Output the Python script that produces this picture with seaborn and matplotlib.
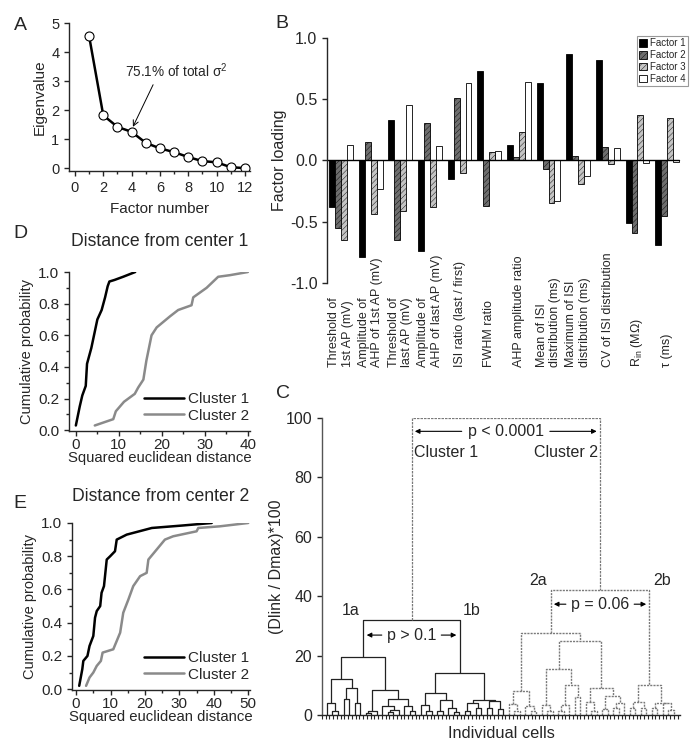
import numpy as np
import pandas as pd
import matplotlib
matplotlib.use('Agg')
import matplotlib.pyplot as plt
from matplotlib.ticker import MultipleLocator, FormatStrFormatter
import seaborn as sns

# ---------------- data ----------------

# A - scree plot
factor_num = list(range(1, 13))
eigenvalues = [4.55, 1.82, 1.42, 1.25, 0.87, 0.68, 0.55, 0.38, 0.24, 0.20, 0.03, 0.00]

# B - factor loadings
parameters = ['Threshold of\n1st AP (mV)', 'Amplitude of\nAHP of 1st AP (mV)',
              'Threshold of\nlast AP (mV)', 'Amplitude of\nAHP of last AP (mV)',
              'ISI ratio (last / first)', 'FWHM ratio', 'AHP amplitude ratio',
              'Mean of ISI\ndistribution (ms)', 'Maximum of ISI\ndistribution (ms)',
              'CV of ISI distribution', r'R$_{\rm in}$ (MΩ)', 'τ (ms)']
factors = ['Factor 1', 'Factor 2', 'Factor 3', 'Factor 4']
factor1 = [-0.38, -0.79, 0.33, -0.74, -0.15, 0.73, 0.13, 0.63, 0.87, 0.82, -0.51, -0.69]
factor2 = [-0.55, 0.15, -0.65, 0.31, 0.51, -0.37, 0.03, -0.07, 0.04, 0.11, -0.59, -0.45]
factor3 = [-0.65, -0.44, -0.41, -0.38, -0.10, 0.07, 0.23, -0.35, -0.19, -0.03, 0.37, 0.35]
factor4 = [0.13, -0.23, 0.45, 0.12, 0.63, 0.08, 0.64, -0.33, -0.13, 0.10, -0.02, -0.01]

# C - dendrogram, nodes are (height, left, right), L is a single cell
L = None
tree_1a = (19.5, (12, (4, L, (1.3, L, L)), (9, (5.5, L, L), (4, L, L))),
           (8.4, (1.2, (0.7, L, L), L),
            (5.3, (2.9, L, (1.8, (1.0, L, L), L)), (3, L, (1.2, L, L)))))
tree_1b = (14, (7.5, (3.5, L, (1.5, L, L)), (5, (1.5, L, L), (2.5, L, (1, L, L)))),
           (5.2, (4.2, (1.5, L, L), (2.5, L, L)), (4.8, (2.5, L, L), (2, L, L))))
tree_2a = (27.5, (8, (3.6, L, (1.5, L, L)), (3, L, (1.2, L, L))),
           (25, (15.5, (3.5, L, (1.5, L, L)), (10, (3.5, (1.5, L, L), L), (6, L, L))),
            (9, (4.5, L, (1.5, L, L)), (6.3, (2, L, L), (4, (2.5, L, L), L)))))
tree_2b = (10, (4.5, (2.5, L, L), (2.5, L, L)), (4.2, (2.5, L, L), (4, L, (1.8, L, L))))
h_cluster1 = 32
h_cluster2 = 42
h_top = 100

# D - distance from center 1
d_c1_dist = [0.0, 0.9, 1.5, 2.3, 2.6, 3.6, 4.3, 5.0, 6.0, 6.8, 7.4, 7.8, 9.0, 11.0, 13.8]
d_c1_prob = [0.03, 0.15, 0.22, 0.28, 0.42, 0.52, 0.61, 0.70, 0.76, 0.84, 0.91, 0.94, 0.95, 0.97, 1.00]
d_c2_dist = [4.4, 8.7, 9.3, 11.2, 13.7, 14.5, 15.7, 16.4, 17.6, 18.8, 21.9, 23.8, 26.9, 27.3,
             30.4, 33.1, 35.8, 40.0]
d_c2_prob = [0.03, 0.07, 0.12, 0.18, 0.23, 0.27, 0.32, 0.44, 0.60, 0.65, 0.72, 0.76, 0.79, 0.84,
             0.90, 0.97, 0.98, 1.00]

# E - distance from center 2
e_c1_dist = [0.9, 1.8, 2.1, 3.3, 3.9, 5.0, 5.5, 6.0, 7.0, 7.4, 8.1, 8.9, 9.9, 11.3, 11.8,
             14.7, 22.0, 31.0, 39.4]
e_c1_prob = [0.02, 0.12, 0.17, 0.20, 0.26, 0.32, 0.43, 0.47, 0.50, 0.58, 0.62, 0.78, 0.80, 0.83,
             0.90, 0.93, 0.97, 0.985, 1.00]
e_c2_dist = [2.9, 3.9, 5.0, 6.0, 7.2, 7.7, 10.8, 11.8, 12.8, 13.7, 15.2, 16.6, 18.6, 20.5, 21.0,
             23.4, 25.8, 28.2, 35.0, 35.5, 41.8, 50.0]
e_c2_prob = [0.02, 0.07, 0.10, 0.14, 0.17, 0.22, 0.24, 0.29, 0.34, 0.46, 0.54, 0.62, 0.68, 0.70,
             0.78, 0.84, 0.90, 0.92, 0.95, 0.97, 0.98, 1.00]

# ---------------- style ----------------
sns.set_theme(style='ticks')
plt.rcParams['font.family'] = ['Liberation Sans', 'DejaVu Sans']
plt.rcParams['mathtext.fontset'] = 'custom'
plt.rcParams['mathtext.rm'] = 'Liberation Sans'
plt.rcParams['mathtext.it'] = 'Liberation Sans:italic'
plt.rcParams['hatch.linewidth'] = 0.3
plt.rcParams['axes.linewidth'] = 1.0
plt.rcParams['xtick.major.width'] = 1.0
plt.rcParams['ytick.major.width'] = 1.0
plt.rcParams['xtick.major.size'] = 3.5
plt.rcParams['ytick.major.size'] = 3.5
plt.rcParams['xtick.minor.size'] = 2
plt.rcParams['ytick.minor.size'] = 2

fig = plt.figure(figsize=(6.96, 7.55), dpi=100)
axA = fig.add_axes([0.0991, 0.7735, 0.260, 0.196])
axB = fig.add_axes([0.470, 0.6252, 0.514, 0.3245])
axC = fig.add_axes([0.4626, 0.0530, 0.5144, 0.3934])
axD = fig.add_axes([0.0991, 0.4291, 0.2601, 0.2106])
axE = fig.add_axes([0.1034, 0.0861, 0.2557, 0.2212])

# ---------------- A ----------------
sns.lineplot(x=factor_num, y=eigenvalues, ax=axA, color='black', lw=1.8, marker='o',
             markersize=6.5, markerfacecolor='white', markeredgecolor='black',
             markeredgewidth=0.8)
axA.set_xlim(-0.42, 12.35)
axA.set_ylim(-0.1, 5.0)
axA.xaxis.set_major_locator(MultipleLocator(2))
axA.xaxis.set_minor_locator(MultipleLocator(1))
axA.yaxis.set_major_locator(MultipleLocator(1))
axA.tick_params(labelsize=10.5)
axA.set_xlabel('Factor number', fontsize=11, labelpad=5)
axA.set_ylabel('Eigenvalue', fontsize=11, labelpad=3)
axA.annotate('75.1% of total σ$^{2}$', xy=(4.05, 1.38), xytext=(3.5, 3.35),
             ha='left', va='center', fontsize=9.8,
             arrowprops=dict(arrowstyle='->', lw=0.7, color='black', relpos=(0.3, 0),
                             shrinkA=1, shrinkB=1))
sns.despine(ax=axA)

# ---------------- B ----------------
loadings = pd.DataFrame({
    'parameter': parameters * 4,
    'factor': [f for f in factors for _ in parameters],
    'loading': factor1 + factor2 + factor3 + factor4,
})
sns.barplot(data=loadings, x='parameter', y='loading', hue='factor', ax=axB,
            palette=['black', '#6e6e6e', '#c4c4c4', 'white'], saturation=1,
            edgecolor='black', linewidth=0.6, width=0.8)
hatches = ['', '//////', '//////', '']
for cont, hatch in zip(axB.containers, hatches):
    for bar in cont:
        bar.set_hatch(hatch)
old = axB.get_legend()
handles = old.legend_handles
labels = [t.get_text() for t in old.texts]
for h, hatch in zip(handles, hatches):
    h.set_hatch(hatch)
    h.set_edgecolor('black')
    h.set_linewidth(0.6)
old.remove()
leg = axB.legend(handles=handles, labels=labels, loc='upper right',
                 bbox_to_anchor=(0.9885, 0.9523), bbox_transform=fig.transFigure,
                 borderaxespad=0, fontsize=7, handlelength=0.8, handleheight=0.8,
                 handletextpad=0.3, labelspacing=0.18, borderpad=0.25,
                 fancybox=False, framealpha=1, edgecolor='#999999')
leg.get_frame().set_linewidth(0.8)
axB.axhline(0, color='black', lw=1.0, xmin=0, xmax=0.985)
axB.set_xlim(-0.47, 11.6)
axB.set_ylim(-1.0, 1.0)
axB.yaxis.set_major_locator(MultipleLocator(0.5))
axB.yaxis.set_major_formatter(FormatStrFormatter('%.1f'))
axB.tick_params(axis='y', labelsize=11.5)
axB.set_xticks([])
# parameter names start at a common baseline below the axis and run upwards
xform = matplotlib.transforms.blended_transform_factory(axB.transData, axB.transAxes)
for i, name in enumerate(parameters):
    axB.text(i, -0.343, name, transform=xform, rotation=90, ha='center', va='bottom',
             multialignment='left', fontsize=9, linespacing=1.15, clip_on=False)
axB.set_xlabel('')
axB.set_ylabel('Factor loading', fontsize=11.5, labelpad=2)
for s in ['top', 'right', 'bottom']:
    axB.spines[s].set_visible(False)


# ---------------- C ----------------
def draw_tree(ax, node, counter, style):
    # walk the tree, draw each link and return the x and height of the node
    if node is None:
        x = counter[0]
        counter[0] += 1
        return x, 0.0
    h, left, right = node
    xl, hl = draw_tree(ax, left, counter, style)
    xr, hr = draw_tree(ax, right, counter, style)
    ax.plot([xl, xl, xr, xr], [hl, h, h, hr], **style)
    return (xl + xr) / 2, h


def link(ax, xl, hl, xr, hr, h, style):
    ax.plot([xl, xl, xr, xr], [hl, h, h, hr], **style)
    return (xl + xr) / 2, h


style1 = dict(color='#222222', lw=0.9, solid_capstyle='butt')
style2 = dict(color='#7a7a7a', lw=1.0, linestyle=(0, (1.5, 0.8)))
style_top = dict(color='#7a7a7a', lw=0.9, linestyle=(0, (2, 0.8)))

counter = [0]
x1a, h1a = draw_tree(axC, tree_1a, counter, style1)
x1b, h1b = draw_tree(axC, tree_1b, counter, style1)
x1, h1 = link(axC, x1a, h1a, x1b, h1b, h_cluster1, style1)
x2a, h2a = draw_tree(axC, tree_2a, counter, style2)
x2b, h2b = draw_tree(axC, tree_2b, counter, style2)
x2, h2 = link(axC, x2a, h2a, x2b, h2b, h_cluster2, style2)
link(axC, x1, h1, x2, h2, h_top, style_top)
n_cells = counter[0]

axC.set_xlim(-0.91, n_cells + 0.1)
axC.set_ylim(0, 100)
axC.set_xticks(np.arange(-0.91, n_cells + 0.1, 0.68))
axC.tick_params(axis='x', labelbottom=False, length=3, width=0.8)
axC.yaxis.set_major_locator(MultipleLocator(20))
axC.tick_params(axis='y', labelsize=11.5)
axC.spines['left'].set_color('#555555')
axC.set_xlabel('Individual cells', fontsize=11.8, labelpad=5)
axC.set_ylabel('(Dlink / Dmax)*100', fontsize=11.5, labelpad=1)
sns.despine(ax=axC)

arrow_kw = dict(arrowstyle='-|>', color='black', lw=0.8, mutation_scale=7,
                shrinkA=0, shrinkB=0)
fs_c = 11.5


def p_label(ax, text, xl, xr, y, half):
    mid = (xl + xr) / 2
    ax.text(mid, y, text, ha='center', va='center', fontsize=fs_c)
    ax.annotate('', xy=(xl + 0.6, y), xytext=(mid - half, y), arrowprops=arrow_kw)
    ax.annotate('', xy=(xr - 0.6, y), xytext=(mid + half, y), arrowprops=arrow_kw)


p_label(axC, 'p < 0.0001', x1, x2, 95.5, 8.0)
p_label(axC, 'p > 0.1', x1a, x1b, 26.9, 5.4)
p_label(axC, 'p = 0.06', x2a, x2b, 37.3, 6.2)
axC.text(x1 + 0.4, 88.3, 'Cluster 1', ha='left', va='center', fontsize=fs_c)
axC.text(x2 - 0.4, 88.3, 'Cluster 2', ha='right', va='center', fontsize=fs_c)
axC.text(x1a - 0.7, 32.6, '1a', ha='right', va='bottom', fontsize=fs_c)
axC.text(x1b + 0.6, 32.6, '1b', ha='left', va='bottom', fontsize=fs_c)
axC.text(x2a - 0.6, 42.6, '2a', ha='right', va='bottom', fontsize=fs_c)
axC.text(x2b + 0.6, 42.6, '2b', ha='left', va='bottom', fontsize=fs_c)

# ---------------- D and E ----------------
for ax, c1x, c1y, c2x, c2y, xmax, xlo, title, pad in [
        (axD, d_c1_dist, d_c1_prob, d_c2_dist, d_c2_prob, 40.5, -1.6, 'Distance from center 1', 19),
        (axE, e_c1_dist, e_c1_prob, e_c2_dist, e_c2_prob, 50.5, -1.2, 'Distance from center 2', 16)]:
    sns.lineplot(x=c1x, y=c1y, ax=ax, color='black', lw=1.8, sort=False, estimator=None,
                 label='Cluster 1')
    sns.lineplot(x=c2x, y=c2y, ax=ax, color='#8a8a8a', lw=1.8, sort=False, estimator=None,
                 label='Cluster 2')
    ax.set_xlim(xlo, xmax)
    ax.set_ylim(-0.005, 1.0)
    ax.xaxis.set_major_locator(MultipleLocator(10))
    ax.xaxis.set_minor_locator(MultipleLocator(5))
    ax.yaxis.set_major_locator(MultipleLocator(0.2))
    ax.yaxis.set_minor_locator(MultipleLocator(0.1))
    ax.yaxis.set_major_formatter(FormatStrFormatter('%.1f'))
    ax.tick_params(labelsize=11)
    ax.tick_params(axis='x', pad=1.5)
    ax.set_xlabel('Squared euclidean distance', fontsize=10.7, labelpad=-1)
    ax.set_ylabel('Cumulative probability', fontsize=10.5, labelpad=3)
    ax.set_title(title, fontsize=12.7, pad=pad)
    ax.legend(loc='lower right', frameon=False, fontsize=11, handlelength=2.6,
              handletextpad=0.25, labelspacing=0.15, borderaxespad=0.15,
              bbox_to_anchor=(1.04, 0.0))
    sns.despine(ax=ax)

# panel letters
for letter, x, y in [('A', 20, 25), ('B', 282, 23), ('C', 283, 393), ('D', 20, 233), ('E', 20, 503)]:
    fig.text(x / 696, 1 - y / 755, letter, fontsize=14, ha='center', va='center')

fig.savefig('out.png', dpi=100)
